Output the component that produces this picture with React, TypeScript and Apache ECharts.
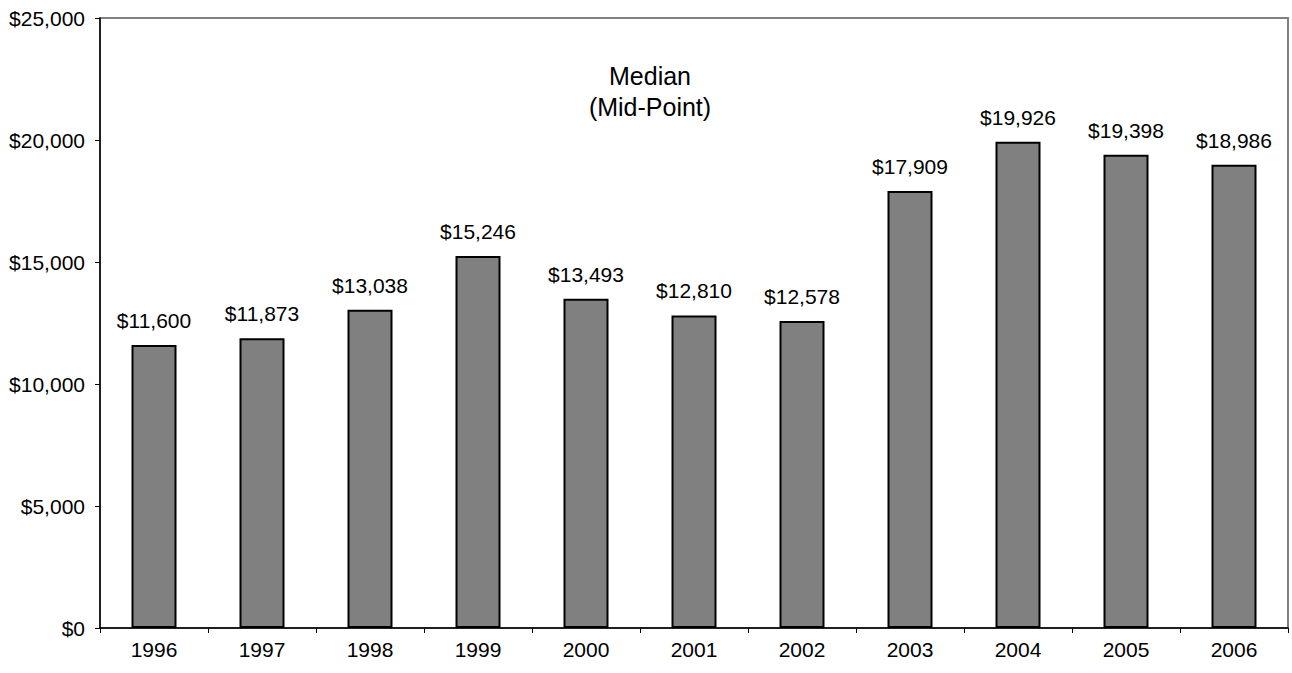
import React, { useEffect, useRef } from "react";
import * as echarts from "echarts";

const years = ["1996", "1997", "1998", "1999", "2000", "2001", "2002", "2003", "2004", "2005", "2006"];
const medianValues = [11600, 11873, 13038, 15246, 13493, 12810, 12578, 17909, 19926, 19398, 18986];
const titleLines = ["Median", "(Mid-Point)"];

const fmt = (v: number) => "$" + v.toLocaleString("en-US");
const FONT = "Liberation Sans, Arial, sans-serif";

export default function App() {
  const ref = useRef<HTMLDivElement>(null);
  useEffect(() => {
    if (!ref.current) return;
    const chart = echarts.init(ref.current, undefined, { renderer: "svg" });
    chart.setOption({
      animation: false,
      textStyle: { fontFamily: FONT },
      title: {
        text: titleLines.join("\n"),
        left: 645,
        top: 55,
        textAlign: "center",
        textStyle: { fontSize: 25, fontWeight: "normal", color: "#000", lineHeight: 31, fontFamily: FONT },
      },
      grid: {
        left: 100,
        right: 4,
        top: 18,
        bottom: 45,
        show: true,
        borderColor: "#808080",
        borderWidth: 2,
        backgroundColor: "transparent",
      },
      xAxis: {
        type: "category",
        data: years,
        axisLine: { lineStyle: { color: "#000", width: 1.5 } },
        axisTick: { show: true, alignWithLabel: false, length: 5, lineStyle: { color: "#000" } },
        axisLabel: { color: "#000", fontSize: 21, margin: 11 },
      },
      yAxis: {
        type: "value",
        min: 0,
        max: 25000,
        interval: 5000,
        splitLine: { show: false },
        axisLine: { show: true, lineStyle: { color: "#000", width: 1.5 } },
        axisTick: { show: true, length: 5, lineStyle: { color: "#000" } },
        axisLabel: { color: "#000", fontSize: 21, margin: 15, formatter: (v: number) => fmt(v) },
      },
      series: [
        {
          type: "bar",
          data: medianValues,
          barWidth: 45,
          itemStyle: { color: "#808080", borderColor: "#000", borderWidth: 2 },
          label: {
            show: true,
            position: "top",
            distance: 14,
            color: "#000",
            fontSize: 21,
            formatter: (p: any) => fmt(p.value),
          },
        },
      ],
    });
    return () => chart.dispose();
  }, []);
  return <div ref={ref} style={{ position: "fixed", left: 0, top: 0, width: 1292, height: 673, background: "#fff" }} />;
}
